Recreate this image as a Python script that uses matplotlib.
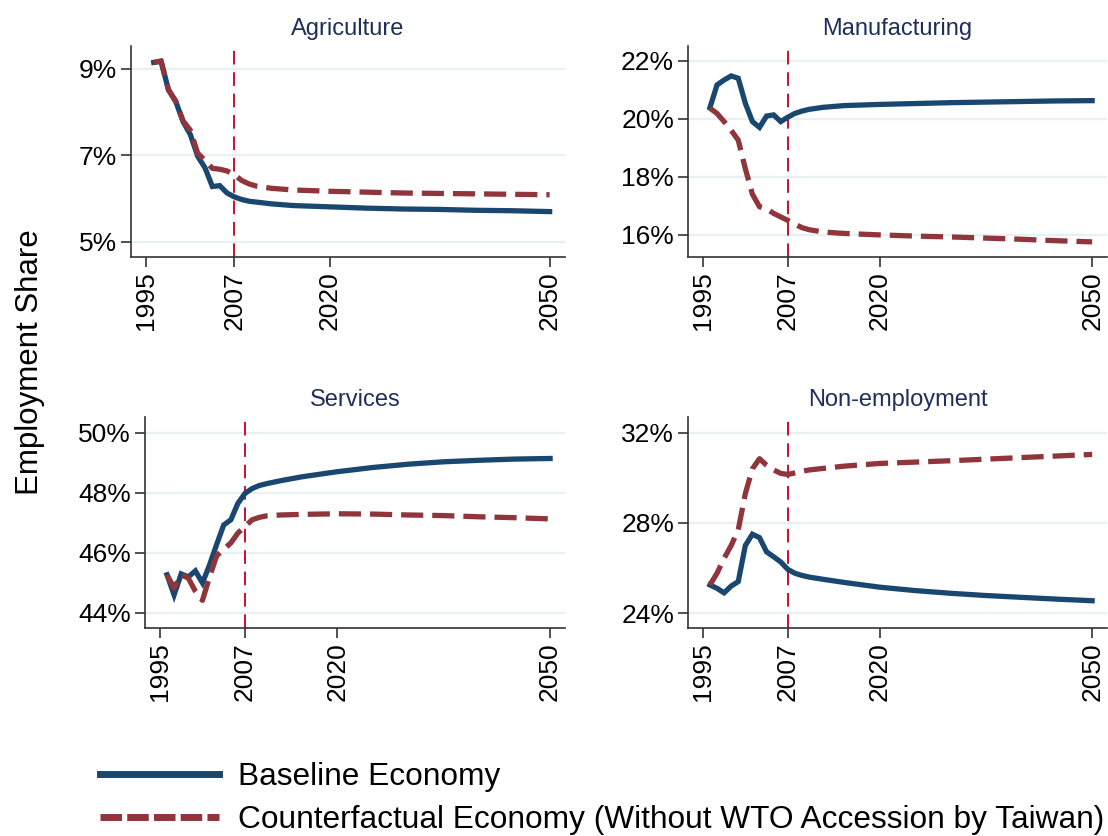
import matplotlib
matplotlib.use("Agg")
import matplotlib.pyplot as plt
from matplotlib.ticker import FuncFormatter
from matplotlib.lines import Line2D

plt.rcParams['font.family'] = ['Liberation Sans', 'DejaVu Sans']

years = [1996, 1997, 1998, 1999, 2000, 2001, 2002, 2003, 2004, 2005, 2006,
         2007, 2008, 2009, 2010, 2012, 2015, 2020, 2025, 2030, 2035, 2040, 2045, 2050]

agri_base = [9.15, 9.18, 8.52, 8.25, 7.78, 7.48, 6.98, 6.71, 6.28, 6.30, 6.13,
             6.04, 5.98, 5.94, 5.92, 5.88, 5.84, 5.81, 5.78, 5.76, 5.75, 5.73, 5.72, 5.70]
agri_cf = [9.15, 9.18, 8.52, 8.25, 7.80, 7.58, 7.05, 6.88, 6.70, 6.68, 6.64,
           6.55, 6.42, 6.34, 6.29, 6.24, 6.20, 6.17, 6.15, 6.13, 6.12, 6.11, 6.10, 6.09]

manu_base = [20.38, 21.16, 21.33, 21.47, 21.39, 20.53, 19.90, 19.70, 20.09, 20.13, 19.90,
             20.05, 20.18, 20.26, 20.32, 20.39, 20.45, 20.49, 20.52, 20.55, 20.57, 20.59, 20.61, 20.62]
manu_cf = [20.36, 20.18, 19.90, 19.60, 19.26, 18.28, 17.40, 16.97, 16.90, 16.74, 16.62,
           16.50, 16.37, 16.25, 16.18, 16.10, 16.05, 16.00, 15.96, 15.93, 15.89, 15.85, 15.80, 15.76]

serv_base = [45.27, 44.60, 45.30, 45.20, 45.40, 45.00, 45.60, 46.28, 46.93, 47.10, 47.65,
             47.98, 48.14, 48.24, 48.30, 48.40, 48.53, 48.70, 48.84, 48.95, 49.03, 49.08, 49.12, 49.14]
serv_cf = [45.27, 44.83, 45.27, 45.16, 44.72, 44.42, 45.20, 45.90, 46.12, 46.33, 46.66,
           46.88, 47.10, 47.18, 47.23, 47.26, 47.28, 47.30, 47.29, 47.26, 47.24, 47.20, 47.17, 47.13]

nonemp_base = [25.25, 25.10, 24.90, 25.20, 25.40, 27.00, 27.50, 27.35, 26.72, 26.50, 26.27,
               25.94, 25.77, 25.67, 25.60, 25.50, 25.36, 25.15, 25.00, 24.88, 24.78, 24.70, 24.62, 24.55]
nonemp_cf = [25.25, 25.77, 26.43, 27.00, 27.70, 29.30, 30.40, 30.85, 30.56, 30.35, 30.20,
             30.15, 30.22, 30.29, 30.35, 30.42, 30.52, 30.64, 30.70, 30.76, 30.83, 30.90, 30.97, 31.04]

titles = ["Agriculture", "Manufacturing", "Services", "Non-employment"]
xticks = [1995, 2007, 2020, 2050]
yticks_list = [[5, 7, 9], [16, 18, 20, 22], [44, 46, 48, 50], [24, 28, 32]]
ylims = [(4.65, 9.53), (15.24, 22.5), (43.5, 50.52), (23.34, 32.7)]
event_year = 2007

base_series = [agri_base, manu_base, serv_base, nonemp_base]
cf_series = [agri_cf, manu_cf, serv_cf, nonemp_cf]

BLUE = "#1a476f"
RED = "#90353b"
VLINE = "#c8102e"
GRID = "#e8f0f2"
TITLE_C = "#1f2f5c"
SPINE = "#333333"

W, H = 1108, 836
fig = plt.figure(figsize=(W / 100, H / 100), dpi=100)

# pixel boxes: left, right, top, bottom
boxes = [(131, 565, 46, 257), (688, 1107, 46, 257),
         (145, 565, 417, 628), (688, 1107, 417, 628)]

for i, (l, r, t, b) in enumerate(boxes):
    ax = fig.add_axes([l / W, 1 - b / H, (r - l) / W, (b - t) / H])
    ax.set_xlim(1992.9, 2052.1)
    ax.set_ylim(*ylims[i])
    ax.set_yticks(yticks_list[i])
    ax.yaxis.set_major_formatter(FuncFormatter(lambda v, p: f"{v:.0f}%"))
    ax.set_xticks(xticks)
    ax.set_xticklabels([str(x) for x in xticks], rotation=90)
    ax.grid(axis='y', color=GRID, linewidth=1.6)
    ax.set_axisbelow(True)
    for s in ['top', 'right']:
        ax.spines[s].set_visible(False)
    for s in ['left', 'bottom']:
        ax.spines[s].set_color(SPINE)
        ax.spines[s].set_linewidth(1.2)
    ax.tick_params(axis='both', direction='out', length=7, width=1.2, color=SPINE,
                   labelsize=19, pad=3)
    ax.axvline(event_year, color=VLINE, linewidth=1.4, dashes=(7, 4), zorder=2)
    ax.plot(years, base_series[i], color=BLUE, linewidth=3.8, solid_joinstyle='miter', zorder=3)
    ax.plot(years, cf_series[i], color=RED, linewidth=3.8, dashes=(4.2, 1.7), zorder=3)
    ax.set_title(titles[i], color=TITLE_C, fontsize=17, pad=8)

fig.text(30 / W, 1 - 362 / H, "Employment Share", rotation=90, fontsize=22.5,
         ha='center', va='center')

handles = [Line2D([], [], color=BLUE, linewidth=5),
           Line2D([], [], color=RED, linewidth=5, dashes=(3.1, 0.75))]
labels = ["Baseline Economy",
          "Counterfactual Economy (Without WTO Accession by Taiwan)"]
fig.legend(handles, labels, loc='upper left', bbox_to_anchor=(100 / W, 1 - 762 / H),
           frameon=False, fontsize=22.8, handlelength=3.75, handletextpad=0.62,
           labelspacing=0.42, borderaxespad=0, borderpad=0)

fig.savefig("out.png", dpi=100)
